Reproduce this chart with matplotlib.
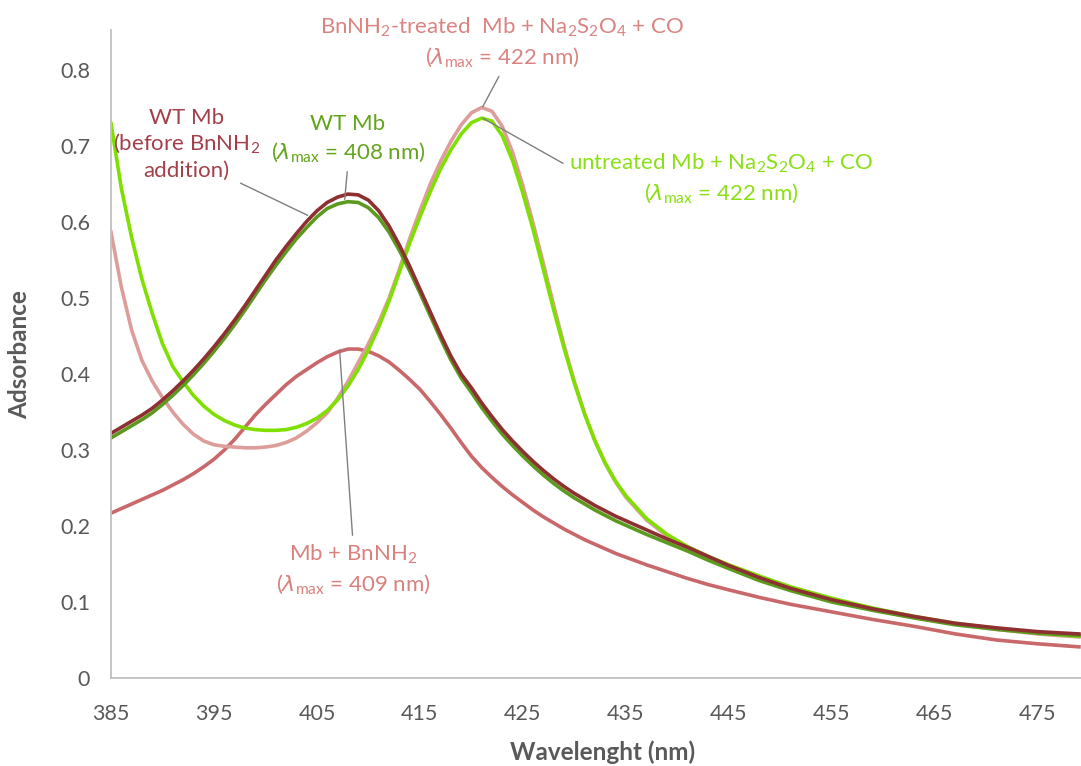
import numpy as np
import matplotlib
matplotlib.use("Agg")
import matplotlib.pyplot as plt

plt.rcParams['font.family'] = ['Lato', 'DejaVu Sans']
plt.rcParams['mathtext.fontset'] = 'custom'
plt.rcParams['mathtext.rm'] = 'Lato'
plt.rcParams['mathtext.it'] = 'DejaVu Sans:italic'

# wavelength grid (nm)
wl = list(range(385, 436)) + [437, 439, 441, 443, 445, 448, 451, 455, 459, 463, 467, 471, 475, 479]

# WT Mb before BnNH2 addition
wt_before = [0.322, 0.330, 0.338, 0.346, 0.355, 0.366, 0.378, 0.391, 0.405, 0.420,
             0.436, 0.453, 0.471, 0.490, 0.510, 0.530, 0.550, 0.568, 0.585, 0.601,
             0.615, 0.626, 0.633, 0.637, 0.636, 0.629, 0.615, 0.595, 0.570, 0.542,
             0.512, 0.482, 0.452, 0.424, 0.400, 0.382, 0.362, 0.344, 0.327, 0.312,
             0.298, 0.285, 0.273, 0.262, 0.252, 0.243, 0.235, 0.227, 0.220, 0.213,
             0.207, 0.195, 0.183, 0.172, 0.160, 0.148, 0.132, 0.118, 0.103, 0.091,
             0.081, 0.072, 0.066, 0.061, 0.058]
# WT Mb (lambda max 408)
wt = [0.316, 0.324, 0.332, 0.340, 0.349, 0.360, 0.372, 0.385, 0.399, 0.414,
      0.430, 0.447, 0.465, 0.484, 0.504, 0.524, 0.543, 0.561, 0.578, 0.593,
      0.607, 0.618, 0.624, 0.627, 0.626, 0.619, 0.606, 0.587, 0.563, 0.536,
      0.507, 0.477, 0.447, 0.419, 0.395, 0.376, 0.356, 0.338, 0.321, 0.306,
      0.292, 0.279, 0.267, 0.256, 0.246, 0.237, 0.229, 0.221, 0.214, 0.207,
      0.201, 0.189, 0.178, 0.167, 0.155, 0.144, 0.128, 0.115, 0.100, 0.089,
      0.079, 0.070, 0.064, 0.059, 0.056]
# Mb + BnNH2
mb_bn = [0.217, 0.223, 0.229, 0.235, 0.241, 0.247, 0.254, 0.261, 0.269, 0.278,
         0.288, 0.300, 0.314, 0.330, 0.346, 0.360, 0.373, 0.386, 0.397, 0.406,
         0.415, 0.423, 0.429, 0.433, 0.433, 0.430, 0.424, 0.416, 0.405, 0.393,
         0.380, 0.364, 0.347, 0.329, 0.310, 0.292, 0.277, 0.264, 0.252, 0.241,
         0.231, 0.221, 0.212, 0.204, 0.196, 0.189, 0.182, 0.176, 0.170, 0.164,
         0.159, 0.149, 0.140, 0.131, 0.123, 0.116, 0.106, 0.097, 0.087, 0.077,
         0.068, 0.058, 0.050, 0.045, 0.041]
# BnNH2-treated Mb + Na2S2O4 + CO
treated_co = [0.587, 0.515, 0.458, 0.418, 0.391, 0.369, 0.350, 0.334, 0.321, 0.312,
              0.307, 0.305, 0.304, 0.303, 0.303, 0.304, 0.306, 0.310, 0.316, 0.325,
              0.336, 0.349, 0.368, 0.390, 0.415, 0.440, 0.468, 0.500, 0.538, 0.578,
              0.615, 0.650, 0.680, 0.706, 0.728, 0.744, 0.751, 0.746, 0.726, 0.692,
              0.648, 0.598, 0.545, 0.490, 0.438, 0.390, 0.348, 0.312, 0.282, 0.258,
              0.238, 0.208, 0.187, 0.171, 0.158, 0.146, 0.131, 0.118, 0.103, 0.091,
              0.080, 0.071, 0.064, 0.058, 0.054]
# untreated Mb + Na2S2O4 + CO
untreated_co = [0.730, 0.645, 0.580, 0.525, 0.480, 0.440, 0.410, 0.390, 0.372, 0.358,
                0.347, 0.339, 0.333, 0.329, 0.327, 0.326, 0.326, 0.327, 0.330, 0.335,
                0.342, 0.352, 0.366, 0.384, 0.406, 0.432, 0.462, 0.496, 0.534, 0.572,
                0.607, 0.640, 0.670, 0.695, 0.716, 0.731, 0.737, 0.733, 0.714, 0.681,
                0.638, 0.590, 0.537, 0.484, 0.434, 0.388, 0.347, 0.312, 0.283, 0.259,
                0.240, 0.210, 0.189, 0.173, 0.160, 0.149, 0.134, 0.120, 0.105, 0.092,
                0.081, 0.072, 0.065, 0.059, 0.055]

xticks = [385, 395, 405, 415, 425, 435, 445, 455, 465, 475]
yticks = [0, 0.1, 0.2, 0.3, 0.4, 0.5, 0.6, 0.7, 0.8]

c_maroon = '#8e2f31'
c_dkgreen = '#5b9a1f'
c_rose = '#c9686a'
c_pink = '#dd9e9b'
c_lime = '#7fe000'
grey = '#595959'

fig = plt.figure(figsize=(10.81, 7.66), dpi=100)
ax = fig.add_axes([111/1081, 88/766, 970/1081, 648/766])

ax.plot(wl, mb_bn, color=c_rose, lw=2.6)
ax.plot(wl, treated_co, color=c_pink, lw=2.6)
ax.plot(wl, untreated_co, color=c_lime, lw=2.6)
ax.plot(wl, wt, color=c_dkgreen, lw=2.6)
ax.plot(wl, wt_before, color=c_maroon, lw=2.6)

ax.set_xlim(385, 479.2)
ax.set_ylim(0, 0.853)
ax.set_xticks(xticks)
ax.set_yticks(yticks)
ax.set_yticklabels(['0' if v == 0 else f'{v:.1f}' for v in yticks])
ax.tick_params(length=0, labelsize=15.5, labelcolor=grey)
ax.tick_params(axis='x', pad=19)
ax.tick_params(axis='y', pad=15)
for s in ['top', 'right']:
    ax.spines[s].set_visible(False)
for s in ['left', 'bottom']:
    ax.spines[s].set_color('#bfbfbf')
    ax.spines[s].set_linewidth(1.3)

fig.text(20/1081, 1 - 355/766, 'Adsorbance', rotation=90, ha='center', va='center',
         fontsize=17.5, fontweight='bold', color=grey)
fig.text(603/1081, 1 - 752/766, 'Wavelenght (nm)', ha='center', va='center',
         fontsize=17.5, fontweight='bold', color=grey)

lam = r'($\lambda_{\mathrm{max}}$ = %s nm)'
fs = 16
lc = '#7f7f7f'

# annotations: text centre (x nm, y abs) and leader line ends
ax.annotate('WT Mb\n(before BnNH$_2$\naddition)', xy=(404.1, 0.609), xytext=(392.3, 0.703),
            ha='center', va='center', fontsize=fs, color='#a3404a', linespacing=1.25,
            arrowprops=dict(arrowstyle='-', color=lc, lw=1, shrinkA=0, shrinkB=0,
                            relpos=(0.83, 0.0)))
ax.annotate('WT Mb\n' + lam % '408', xy=(407.7, 0.630), xytext=(408.0, 0.709),
            ha='center', va='center', fontsize=fs, color='#62a41c', linespacing=1.35,
            arrowprops=dict(arrowstyle='-', color=lc, lw=1, shrinkA=3, shrinkB=0,
                            relpos=(0.5, 0.0)))
ax.annotate('BnNH$_2$-treated  Mb + Na$_2$S$_2$O$_4$ + CO\n' + lam % '422', xy=(421.1, 0.752),
            xytext=(423.0, 0.836), ha='center', va='center', fontsize=fs, color='#da8482',
            linespacing=1.35,
            arrowprops=dict(arrowstyle='-', color=lc, lw=1, shrinkA=3, shrinkB=0,
                            relpos=(0.5, 0.0)))
ax.annotate('untreated Mb + Na$_2$S$_2$O$_4$ + CO\n' + lam % '422', xy=(421.1, 0.737),
            xytext=(444.3, 0.657), ha='center', va='center', fontsize=fs, color='#8ae014',
            linespacing=1.35,
            arrowprops=dict(arrowstyle='-', color=lc, lw=1, shrinkA=3, shrinkB=0,
                            relpos=(0.0, 0.72)))
ax.annotate('Mb + BnNH$_2$\n' + lam % '409', xy=(407.2, 0.432), xytext=(408.5, 0.143),
            ha='center', va='center', fontsize=fs, color='#d9827d', linespacing=1.35,
            arrowprops=dict(arrowstyle='-', color=lc, lw=1, shrinkA=3, shrinkB=0,
                            relpos=(0.5, 1.0)))

fig.savefig('out.png', dpi=100)
